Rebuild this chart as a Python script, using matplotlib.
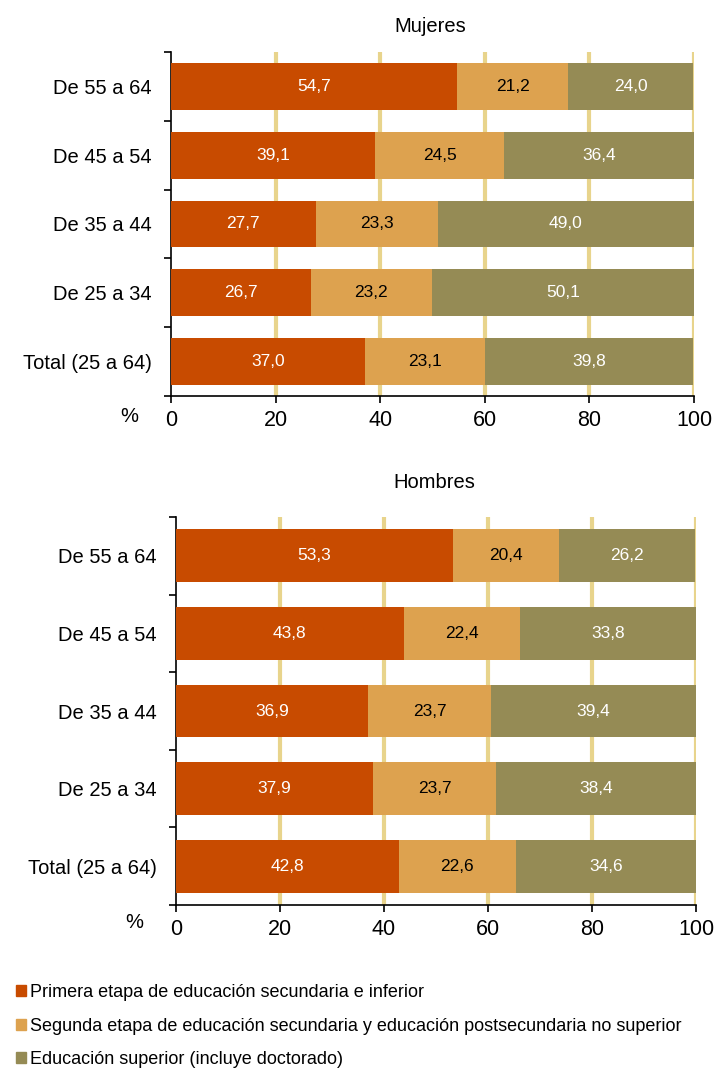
import matplotlib.pyplot as plt
import numpy as np

plt.rcParams['font.family'] = ['Liberation Sans', 'DejaVu Sans']

# Data
grupos = ['De 55 a 64', 'De 45 a 54', 'De 35 a 44', 'De 25 a 34', 'Total (25 a 64)']
niveles = ['Primera etapa de educación secundaria e inferior',
           'Segunda etapa de educación secundaria y educación postsecundaria no superior',
           'Educación superior (incluye doctorado)']

mujeres_primera = [54.7, 39.1, 27.7, 26.7, 37.0]
mujeres_segunda = [21.2, 24.5, 23.3, 23.2, 23.1]
mujeres_superior = [24.0, 36.4, 49.0, 50.1, 39.8]

hombres_primera = [53.3, 43.8, 36.9, 37.9, 42.8]
hombres_segunda = [20.4, 22.4, 23.7, 23.7, 22.6]
hombres_superior = [26.2, 33.8, 39.4, 38.4, 34.6]

colores = ['#C84B00', '#DDA24F', '#958B55']
texto_col = ['white', 'black', 'white']
grid_col = '#E8D48C'

fig = plt.figure(figsize=(7.16, 10.70), dpi=100)
W, H = 716, 1070


def panel(rect, series, titulo, title_xy, pct_xy):
    l, t, r, b = rect
    ax = fig.add_axes([l / W, 1 - b / H, (r - l) / W, (b - t) / H])
    y = np.arange(len(grupos))
    left = np.zeros(len(grupos))
    for vals, c, tc in zip(series, colores, texto_col):
        vals = np.array(vals)
        ax.barh(y, vals, left=left, height=0.68, color=c, zorder=3)
        for yi, li, v in zip(y, left, vals):
            ax.text(li + v / 2, yi, f'{v:.1f}'.replace('.', ','), ha='center', va='center',
                    color=tc, fontsize=12.5, zorder=4)
        left = left + vals
    ax.set_xlim(0, 100)
    ax.set_ylim(len(grupos) - 0.5, -0.5)
    ax.set_xticks([0, 20, 40, 60, 80, 100])
    ax.tick_params(axis='x', labelsize=15.5, length=5, width=1.2, pad=5, colors='black')
    ax.set_yticks(y)
    ax.set_yticklabels(grupos, fontsize=14.5)
    ax.tick_params(axis='y', length=0, pad=14)
    ax.set_yticks(np.arange(-0.5, len(grupos), 1), minor=True)
    ax.tick_params(axis='y', which='minor', length=5, width=1.2)
    for xv in [20, 40, 60, 80, 100]:
        ax.axvline(xv, color=grid_col, lw=3, zorder=1)
    for s in ['top', 'right']:
        ax.spines[s].set_visible(False)
    ax.spines['left'].set_linewidth(1.2)
    ax.spines['bottom'].set_linewidth(1.2)
    ax.spines['bottom'].set_zorder(5)
    fig.text(title_xy[0] / W, 1 - title_xy[1] / H, titulo, ha='center', va='center', fontsize=14.5)
    fig.text(pct_xy[0] / W, 1 - pct_xy[1] / H, '%', ha='center', va='center', fontsize=14.5)
    return ax


panel((171, 52, 694, 396), [mujeres_primera, mujeres_segunda, mujeres_superior],
      'Mujeres', (430, 26), (129, 416))
panel((176, 517, 696, 905), [hombres_primera, hombres_segunda, hombres_superior],
      'Hombres', (434, 482), (134, 922))

# Legend
handles = [plt.Rectangle((0, 0), 1, 1, color=c) for c in colores]
fig.legend(handles, niveles, loc='upper left', bbox_to_anchor=(16 / W, 1 - 984 / H),
           frameon=False, fontsize=13, handlelength=0.55, handleheight=0.55,
           handletextpad=0.2, labelspacing=0.92, borderaxespad=0, borderpad=0)

fig.savefig('out.png', dpi=100)
